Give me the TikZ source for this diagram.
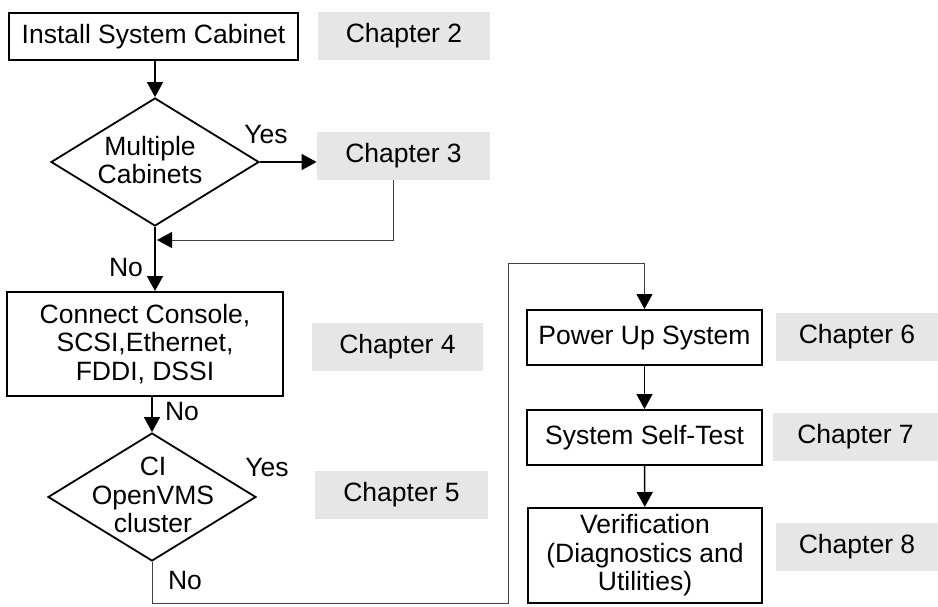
\documentclass[tikz,border=0pt]{standalone}
\usepackage{fontspec}
\setmainfont{Liberation Sans}
\usepackage{tikz}
\usetikzlibrary{arrows.meta,shapes.geometric,calc,positioning}
\definecolor{kapgrau}{RGB}{230,230,230}

\begin{document}
\begin{tikzpicture}[x=0.5pt,y=-0.5pt,
  font=\fontsize{13.25}{14.2}\selectfont,
  kasten/.style={draw,line width=1pt,align=center,inner sep=0pt},
  kapitel/.style={fill=kapgrau,minimum height=24pt,inner sep=0pt},
  raute/.style={draw,diamond,line width=0.9pt,inner sep=0pt,minimum width=104pt,minimum height=64pt},
  spitze/.style={-{Triangle[length=7.5pt,width=8pt,color=black]}},
  pfeil/.style={spitze,line width=0.75pt},
  linie/.style={line width=0.5pt,black!75}]
\useasboundingbox (0,0) rectangle (938,606);
%Linke Spalte
\node[kasten,minimum width=144.5pt,minimum height=23.5pt] (install) at (153.5,36.5) {Install System Cabinet};
\node[raute] (multi) at (155,162) {};
\node[align=center] (multitxt) at (150,160) {Multiple\\Cabinets};
\node[kasten,minimum width=138pt,minimum height=52pt] (conn) at (145,344) {Connect Console,\\SCSI,Ethernet,\\FDDI, DSSI};
\node[raute] (ci) at (152,497) {};
\node[align=center] (citxt) at (153,495) {CI\\OpenVMS\\cluster};
%Rechte Spalte
\node[kasten,minimum width=117.5pt,minimum height=27.5pt] (power) at (644.5,337.5) {Power Up System};
\node[kasten,minimum width=117.5pt,minimum height=27.5pt] (selbst) at (644.5,437.5) {System Self-Test};
\node[kasten,minimum width=117pt,minimum height=47.5pt] (verif) at (645,555.5) {Verification\\(Diagnostics and\\Utilities)};
%Kapitel
\foreach \nr/\cx/\cy/\bw in {2/404/35.5/86, 3/403.5/156/86.5, 4/397.5/347/85.5, 5/401.5/494.5/86.5, 6/857/337/81, 7/855.5/437/82.5, 8/857/546.5/81}
  \node[kapitel,minimum width=\bw pt] (k\nr) at (\cx,\cy) {Chapter \nr};
%Beschriftungen
\node (ja1) at (266,135) {Yes};
\node (ja2) at (267,468) {Yes};
\node (nein1) at (126,268) {No};
\node (nein2) at (182,412) {No};
\node (nein3) at (185,581) {No};
%Pfeile
\coordinate (einm) at (157,240);
\coordinate (u1) at (152,603);
\coordinate (u2) at (508,263);
\draw[pfeil] (install.south -| multi.north) -- (multi.north);
\draw[pfeil] (multi.east) -- (multi.east -| k3.west);
\draw[linie,spitze] ([xshift=-5pt]k3.south) |- (einm);
\draw[pfeil] (multi.south) -- (multi.south |- conn.north);
\draw[pfeil] (ci.north |- conn.south) -- (ci.north);
\draw[linie,spitze] (ci.south) -- (u1) -| (u2) -| (power.north);
\draw[pfeil] (power) -- (selbst);
\draw[pfeil] (selbst) -- (verif);
\end{tikzpicture}
\end{document}
